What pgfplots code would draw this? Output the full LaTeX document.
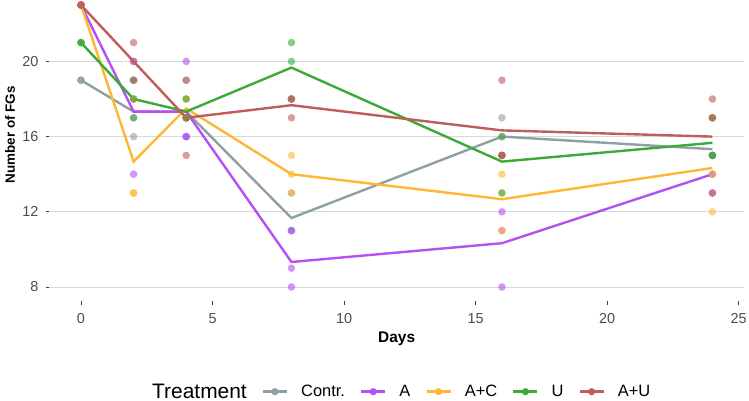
\documentclass[border=0pt]{standalone}
\usepackage{fontspec}
\setmainfont{Liberation Sans}
\usepackage{pgfplots}
\pgfplotsset{compat=1.18}

\definecolor{cContr}{HTML}{8FA0A4}
\definecolor{cA}{HTML}{B550F2}
\definecolor{cAC}{HTML}{FFB733}
\definecolor{cU}{HTML}{3BAA37}
\definecolor{cAU}{HTML}{BF5C5C}
\definecolor{gridgray}{HTML}{D9D9D9}
\definecolor{ticktext}{HTML}{4D4D4D}

\pgfplotsset{
  meanline/.style={line width=2.4bp, #1},
  reps/.style={only marks, mark=*, mark size=3.8bp,
    mark options={fill=#1, draw opacity=0, fill opacity=0.6}},
}

\begin{document}
\begin{tikzpicture}
\useasboundingbox (-49.4bp,-99.9bp) rectangle (699.6bp,301.1bp);
\begin{axis}[
  at={(0,0)}, anchor=south west,
  scale only axis,
  width=694.6bp, height=310.2bp,
  xmin=-1.2, xmax=25.2,
  ymin=7.25, ymax=23.75,
  xtick={0,5,10,15,20,25},
  ytick={8,12,16,20},
  ymajorgrids,
  major grid style={color=gridgray, line width=0.9bp},
  axis line style={draw=none},
  tick align=outside,
  xtick pos=bottom, ytick pos=left,
  major tick length=3.5bp,
  tick style={color=black!75, line width=0.8bp},
  /pgf/number format/assume math mode=true,
  ticklabel style={font=\fontsize{14.5}{14.5}\selectfont, text=ticktext},
  xticklabel style={yshift=-5bp},
  yticklabel style={xshift=-4bp},
  xlabel={\textbf{Days}},
  ylabel={\textbf{Number of FGs}},
  xlabel style={font=\fontsize{15.5}{15.5}\selectfont, at={(axis description cs:0.5,-0.135)}, anchor=base},
  ylabel style={font=\fontsize{13.5}{13.5}\selectfont, at={(axis description cs:-0.0567,0.5364)}, anchor=center, rotate=0},
  legend columns=-1,
  legend style={
    draw=none, fill=none, inner sep=0pt,
    at={(axis description cs:0.129,-0.292)}, anchor=west,
    font=\fontsize{16.5}{16.5}\selectfont,
    nodes={inner sep=0pt},
    cells={anchor=west},
    /tikz/every odd column/.append style={column sep=13bp},
    /tikz/every even column/.append style={column sep=15bp},
  },
  legend image code/.code={
    \draw[#1] (0bp,0bp) -- (24bp,0bp);
    \fill[#1, draw=none] (12bp,0bp) circle (3.6bp);
  },
]

% group means
\addplot[meanline=cContr, forget plot] coordinates {(0,19) (2,17.33) (4,17.33) (8,11.67) (16,16) (24,15.33)};
\addplot[meanline=cA, forget plot] coordinates {(0,23) (2,17.33) (4,17.33) (8,9.33) (16,10.33) (24,14)};
\addplot[meanline=cAC, forget plot] coordinates {(0,23) (2,14.67) (4,17.5) (8,14) (16,12.67) (24,14.33)};
\addplot[meanline=cU, forget plot] coordinates {(0,21) (2,18) (4,17.33) (8,19.67) (16,14.67) (24,15.67)};
\addplot[meanline=cAU, forget plot] coordinates {(0,23) (2,20) (4,17) (8,17.67) (16,16.33) (24,16)};

% individual replicates
\addplot[reps=cContr, forget plot] coordinates {
  (0,19) (0,19) (0,19) (2,16) (2,17) (2,19) (4,16) (4,17) (4,19)
  (8,13) (8,11) (8,11) (16,17) (16,16) (16,15) (24,17) (24,15) (24,14)};
\addplot[reps=cA, forget plot] coordinates {
  (0,23) (0,23) (0,23) (2,14) (2,18) (2,20) (4,20) (4,16) (4,16)
  (8,9) (8,8) (8,11) (16,12) (16,11) (16,8) (24,15) (24,14) (24,13)};
\addplot[reps=cAC, forget plot] coordinates {
  (0,23) (0,23) (0,23) (2,13) (2,13) (2,18) (4,17) (4,17) (4,18) (4,18)
  (8,15) (8,14) (8,13) (16,14) (16,13) (16,11) (24,17) (24,14) (24,12)};
\addplot[reps=cU, forget plot] coordinates {
  (0,21) (0,21) (0,21) (2,17) (2,18) (2,19) (4,17) (4,17) (4,18)
  (8,21) (8,20) (8,18) (16,16) (16,15) (16,13) (24,17) (24,15) (24,15)};
\addplot[reps=cAU, forget plot] coordinates {
  (0,23) (0,23) (0,23) (2,19) (2,20) (2,21) (4,15) (4,17) (4,19)
  (8,18) (8,18) (8,17) (16,19) (16,15) (16,15) (24,18) (24,17) (24,13)};

\addlegendimage{empty legend}
\addlegendentry{\fontsize{21}{21}\selectfont Treatment}
\addlegendimage{cContr, line width=2.4bp}
\addlegendentry{Contr.}
\addlegendimage{cA, line width=2.4bp}
\addlegendentry{A}
\addlegendimage{cAC, line width=2.4bp}
\addlegendentry{A+C}
\addlegendimage{cU, line width=2.4bp}
\addlegendentry{U}
\addlegendimage{cAU, line width=2.4bp}
\addlegendentry{A+U}
\end{axis}
\end{tikzpicture}
\end{document}
